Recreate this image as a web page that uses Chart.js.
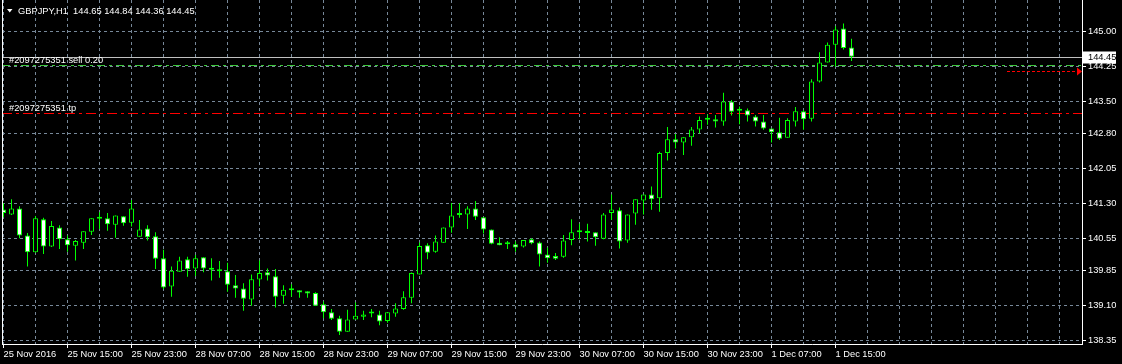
<!DOCTYPE html>
<html>
<head>
<meta charset="utf-8">
<title>GBPJPY,H1</title>
<script src="https://cdn.jsdelivr.net/npm/chart.js@4.4.1/dist/chart.umd.min.js"></script>
<style>
    html, body { margin: 0; padding: 0; background: #000; }
    #wrap { width: 1122px; height: 364px; }
</style>
</head>
<body>
<div id="wrap"><canvas id="myChart" width="1122" height="364"></canvas></div>
<script>
var symbolTitle = "GBPJPY,H1";
var orderTicket = "#2097275351";
var orderLabel = "sell 0.20";

// one label every 8 bars, starting at bar 0
var timeLabels = ["25 Nov 2016", "25 Nov 15:00", "25 Nov 23:00", "28 Nov 07:00", "28 Nov 15:00",
    "28 Nov 23:00", "29 Nov 07:00", "29 Nov 15:00", "29 Nov 23:00", "30 Nov 07:00",
    "30 Nov 15:00", "30 Nov 23:00", "1 Dec 07:00", "1 Dec 15:00"];

var priceTicks = [145.00, 144.25, 143.50, 142.80, 142.05, 141.30, 140.55, 139.85, 139.10, 138.35];

var opens = [141.17, 141.06, 141.19, 140.61, 140.25, 140.96, 140.37, 140.78, 140.53, 140.39,
    140.45, 140.69, 140.97, 140.98, 140.84, 141.02, 140.88, 140.58, 140.76, 140.59,
    140.12, 139.51, 139.83, 140.10, 139.90, 140.14, 139.88, 139.88, 139.84, 139.54,
    139.47, 139.23, 139.66, 139.82, 139.73, 139.31, 139.44, 139.43, 139.41, 139.37,
    139.13, 138.96, 138.83, 138.54, 138.80, 138.86, 138.93, 138.91, 138.77, 138.93,
    139.03, 139.27, 139.77, 140.40, 140.26, 140.45, 140.78, 141.05, 141.06, 141.19,
    141.00, 140.74, 140.45, 140.43, 140.42, 140.37, 140.53, 140.46, 140.20, 140.17,
    140.15, 140.51, 140.68, 140.66, 140.68, 140.54, 141.09, 141.15, 140.50, 141.08,
    141.36, 141.49, 141.41, 142.38, 142.68, 142.61, 142.72, 142.89, 143.10, 143.11,
    143.06, 143.49, 143.29, 143.30, 143.17, 143.06, 142.91, 142.83, 142.71, 143.06,
    143.28, 143.12, 143.92, 144.33, 144.71, 145.06, 144.65];
var highs = [141.30, 141.39, 141.24, 140.66, 141.03, 140.99, 140.92, 140.83, 140.61, 140.51,
    140.70, 140.98, 141.11, 141.09, 141.04, 141.02, 141.37, 140.94, 140.83, 140.68,
    140.30, 139.94, 140.15, 140.15, 140.19, 140.14, 140.12, 140.06, 140.02, 139.76,
    139.58, 139.77, 140.07, 139.90, 139.89, 139.54, 139.56, 139.43, 139.41, 139.39,
    139.19, 139.03, 138.88, 139.01, 139.17, 138.99, 139.03, 138.99, 138.96, 139.15,
    139.41, 139.81, 140.46, 140.44, 140.61, 140.78, 141.31, 141.30, 141.24, 141.35,
    141.00, 140.74, 140.57, 140.49, 140.48, 140.51, 140.55, 140.48, 140.35, 140.23,
    140.62, 140.96, 140.86, 140.86, 140.68, 141.09, 141.49, 141.21, 141.06, 141.39,
    141.49, 141.66, 142.41, 142.94, 142.79, 142.72, 142.94, 143.17, 143.21, 143.20,
    143.68, 143.52, 143.38, 143.34, 143.20, 143.20, 142.91, 143.14, 143.13, 143.37,
    143.30, 143.97, 144.55, 144.76, 145.11, 145.17, 144.84];
var lows = [141.00, 141.05, 140.55, 139.94, 140.24, 140.21, 140.36, 140.32, 140.26, 140.07,
    140.32, 140.62, 140.75, 140.71, 140.56, 140.82, 140.80, 140.58, 140.50, 139.89,
    139.46, 139.29, 139.83, 139.72, 139.74, 139.82, 139.64, 139.70, 139.40, 139.27,
    138.99, 139.10, 139.51, 139.64, 139.06, 139.14, 139.29, 139.27, 139.27, 139.10,
    138.83, 138.79, 138.47, 138.54, 138.80, 138.79, 138.85, 138.68, 138.73, 138.86,
    139.01, 139.15, 139.77, 140.10, 140.24, 140.45, 140.67, 140.99, 140.75, 140.94,
    140.65, 140.42, 140.40, 140.32, 140.26, 140.35, 140.42, 139.94, 140.02, 140.08,
    140.13, 140.40, 140.53, 140.48, 140.39, 140.53, 140.94, 140.33, 140.45, 140.84,
    141.06, 141.16, 141.12, 142.22, 142.48, 142.34, 142.54, 142.81, 142.99, 142.93,
    142.97, 143.19, 143.00, 143.06, 142.95, 142.88, 142.61, 142.66, 142.71, 142.95,
    142.88, 143.06, 143.90, 144.33, 144.24, 144.61, 144.36];
var closes = [141.09, 141.19, 140.61, 140.25, 140.98, 140.37, 140.81, 140.53, 140.40, 140.49,
    140.70, 140.98, 140.98, 140.85, 141.04, 140.87, 141.19, 140.74, 140.57, 140.11,
    139.49, 139.85, 140.07, 139.88, 140.12, 139.90, 139.87, 139.84, 139.55, 139.47,
    139.25, 139.67, 139.80, 139.75, 139.29, 139.44, 139.43, 139.38, 139.36, 139.10,
    138.96, 138.82, 138.54, 138.80, 138.88, 138.91, 138.94, 138.76, 138.96, 139.04,
    139.28, 139.80, 140.38, 140.24, 140.48, 140.78, 141.04, 141.06, 141.19, 141.01,
    140.74, 140.43, 140.40, 140.42, 140.35, 140.51, 140.44, 140.20, 140.12, 140.11,
    140.50, 140.68, 140.69, 140.67, 140.57, 141.06, 141.17, 140.48, 141.06, 141.39,
    141.49, 141.39, 142.38, 142.68, 142.61, 142.72, 142.89, 143.09, 143.11, 143.06,
    143.49, 143.27, 143.30, 143.19, 143.06, 142.91, 142.83, 142.69, 143.09, 143.28,
    143.11, 143.92, 144.33, 144.71, 145.04, 144.64, 144.45];

var bidPrice = 144.45;
var orderPrice = 144.27;
var tpPrice = 143.24;
var alertPrice = 144.14;

var GREEN = "#00ff00";
var GRID = "#778899";
var FAMILY = '"Liberation Sans", Arial, sans-serif';
var FONT = "9.3px " + FAMILY;

var bodies = opens.map(function (o, i) { return { x: i, y: [o, closes[i]] }; });
var wicks = lows.map(function (l, i) { return { x: i, y: [l, highs[i]] }; });

// dashed 1px horizontal line built from whole-pixel segments
function pixelDash(ctx, x0, x1, py, color, pattern) {
    ctx.fillStyle = color;
    var x = x0, k = 0;
    while (x < x1) {
        var len = pattern[k % pattern.length];
        if (k % 2 === 0) ctx.fillRect(x, py, Math.min(len, x1 - x), 1);
        x += len;
        k++;
    }
}

// order lines, bid line, labels and frame
var mtOverlay = {
    id: "mtOverlay",
    beforeDatasetsDraw: function (chart) {
        var ctx = chart.ctx, a = chart.chartArea, y = chart.scales.y;
        var left = Math.round(a.left), right = Math.round(a.right);
        ctx.save();
        pixelDash(ctx, left, right, Math.round(y.getPixelForValue(tpPrice)), "#ff0000", [10, 4, 3, 4]);
        pixelDash(ctx, left, right, Math.round(y.getPixelForValue(orderPrice)), "#3cc83c", [8, 4, 3, 4]);
        pixelDash(ctx, left, right, Math.round(y.getPixelForValue(bidPrice)), "#c0c0c0", [2000]);

        var ay = Math.round(y.getPixelForValue(alertPrice));
        pixelDash(ctx, right - 75, right - 5, ay, "#ff0000", [3, 2]);
        ctx.fillStyle = "#ff0000";
        ctx.beginPath();
        ctx.moveTo(right - 5, ay - 3.5);
        ctx.lineTo(right - 5, ay + 4.5);
        ctx.lineTo(right, ay + 0.5);
        ctx.closePath();
        ctx.fill();
        ctx.restore();
    },
    afterDraw: function (chart) {
        var ctx = chart.ctx, a = chart.chartArea, y = chart.scales.y;
        ctx.save();
        // left frame line
        ctx.fillStyle = "#ffffff";
        ctx.fillRect(a.left, a.top, 1, a.bottom - a.top + 1);

        // title with last bar OHLC
        var n = closes.length - 1;
        ctx.beginPath();
        ctx.moveTo(7, 9);
        ctx.lineTo(12.5, 9);
        ctx.lineTo(9.75, 12.5);
        ctx.closePath();
        ctx.fill();
        ctx.font = FONT;
        ctx.textBaseline = "alphabetic";
        ctx.textAlign = "left";
        ctx.fillText(symbolTitle + "  " + [opens[n], highs[n], lows[n], closes[n]]
            .map(function (v) { return v.toFixed(2); }).join(" "), 18, 13.5);

        // order labels above their lines
        ctx.fillText(orderTicket + " " + orderLabel, 9, Math.round(y.getPixelForValue(orderPrice)) - 2.5);
        ctx.fillText(orderTicket + " tp", 9, Math.round(y.getPixelForValue(tpPrice)) - 2);

        // bid price box on the axis
        var by = Math.round(y.getPixelForValue(bidPrice)) + 0.5;
        ctx.fillStyle = "#ffffff";
        ctx.fillRect(a.right + 1, by - 6, 33, 12);
        ctx.fillStyle = "#000000";
        ctx.textBaseline = "middle";
        ctx.fillText(bidPrice.toFixed(2), a.right + 6, by);
        ctx.restore();
    }
};

new Chart("myChart", {
    type: "bar",
    data: {
        datasets: [{
            label: "body",
            data: bodies,
            backgroundColor: function (c) {
                var i = c.dataIndex;
                return closes[i] < opens[i] ? "#ffffff" : "#000000";
            },
            borderColor: GREEN,
            borderWidth: 1,
            borderSkipped: false,
            barThickness: 5,
            maxBarThickness: 5,
            minBarLength: 2,
            grouped: false,
            inflateAmount: 0,
            clip: 0,
            order: 1
        }, {
            label: "wick",
            data: wicks,
            backgroundColor: GREEN,
            borderWidth: 0,
            barThickness: 1,
            maxBarThickness: 1,
            grouped: false,
            inflateAmount: 0,
            clip: 0,
            order: 2
        }]
    },
    options: {
        responsive: false,
        animation: false,
        devicePixelRatio: 1,
        layout: { padding: { left: 2, top: 0, right: 0, bottom: 0 } },
        plugins: { legend: { display: false }, tooltip: { enabled: false } },
        scales: {
            x: {
                type: "linear",
                position: "bottom",
                offset: false,
                bounds: "data",
                min: -0.1875,
                max: 134.8125,
                afterBuildTicks: function (s) {
                    var t = [];
                    for (var v = 0; v <= s.max; v += 4) t.push({ value: v });
                    s.ticks = t;
                },
                afterFit: function (s) {
                    s.height = 20;
                    s.paddingLeft = 0;
                    s.paddingRight = 0;
                },
                grid: {
                    offset: false,
                    color: GRID,
                    lineWidth: 1,
                    drawTicks: true,
                    tickLength: 4,
                    tickBorderDash: [],
                    tickColor: function (c) {
                        var v = c.tick ? c.tick.value : -1;
                        return (v % 8 === 0 && timeLabels[v / 8]) ? "#ffffff" : "rgba(0,0,0,0)";
                    }
                },
                border: { display: true, color: "#ffffff", width: 1, dash: [3, 3] },
                ticks: {
                    color: "#ffffff",
                    font: { family: FAMILY, size: 9.3 },
                    padding: 1,
                    align: "start",
                    maxRotation: 0,
                    minRotation: 0,
                    autoSkip: false,
                    callback: function (v) {
                        return (v % 8 === 0 && timeLabels[v / 8]) ? timeLabels[v / 8] : "";
                    }
                }
            },
            y: {
                type: "linear",
                position: "right",
                bounds: "data",
                min: 138.275,
                max: 145.673,
                afterBuildTicks: function (s) {
                    s.ticks = priceTicks.map(function (v) { return { value: v }; });
                },
                afterFit: function (s) {
                    s.width = 40;
                    s.paddingTop = 0;
                    s.paddingBottom = 0;
                },
                grid: {
                    color: GRID,
                    lineWidth: 1,
                    drawTicks: true,
                    tickLength: 4,
                    tickBorderDash: [],
                    tickColor: "#ffffff"
                },
                border: { display: true, color: "#ffffff", width: 1, dash: [3, 3] },
                ticks: {
                    color: "#ffffff",
                    font: { family: FAMILY, size: 9.3 },
                    padding: 2,
                    autoSkip: false,
                    callback: function (v) { return Number(v).toFixed(2); }
                }
            }
        }
    },
    plugins: [mtOverlay]
});
</script>
</body>
</html>
